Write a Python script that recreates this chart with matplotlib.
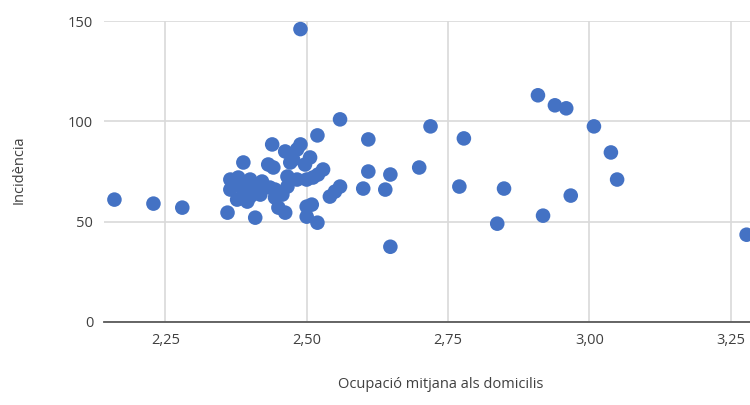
import numpy as np
import matplotlib.pyplot as plt
from matplotlib.ticker import FuncFormatter

# ocupacio mitjana (x) i incidencia (y), llegits del grafic
ocupacio = [2.160, 2.229, 2.280, 2.489, 2.559, 2.609, 2.519, 2.719, 2.778,
            2.909, 2.939, 2.959, 3.008, 3.038, 3.049, 2.967, 2.918, 2.837,
            2.849, 2.770, 2.699, 2.648, 2.639, 2.648, 3.278, 2.609, 2.600,
            2.439, 2.489, 2.462, 2.388, 2.432, 2.441, 2.506, 2.471, 2.529,
            2.379, 2.400, 2.421, 2.466, 2.483, 2.500, 2.511, 2.365, 2.388,
            2.405, 2.444, 2.466, 2.559, 2.377, 2.395, 2.444, 2.541, 2.550,
            2.450, 2.462, 2.500, 2.509, 2.500, 2.519, 2.360, 2.409,
            2.383, 2.400, 2.418, 2.435, 2.457, 2.476, 2.483, 2.497, 2.520, 2.365]
incidencia = [61, 59, 57, 146, 101, 91, 93, 97.5, 91.5,
              113, 108, 106.5, 97.5, 84.5, 71, 63, 53, 49,
              66.5, 67.5, 77, 73.5, 66, 37.5, 43.5, 75, 66.5,
              88.5, 88.5, 85, 79.5, 78.5, 77, 82, 79.5, 76,
              72, 71, 70, 72.5, 71, 71, 72, 66, 66,
              67, 66, 67.5, 67.5, 61, 60, 62, 62.5, 65,
              57, 54.5, 57.5, 58.5, 52.5, 49.5, 54.5, 52,
              68.5, 62.5, 63.5, 67, 63.5, 81, 86, 78.5, 73.5, 71]

xticks = [2.25, 2.50, 2.75, 3.00, 3.25]
yticks = [0, 50, 100, 150]

plt.rcParams['font.family'] = ['Open Sans', 'DejaVu Sans']

fig = plt.figure(figsize=(7.5, 4.05), dpi=100)
ax = fig.add_axes([0.139, 0.205, 0.861, 0.743])

ax.scatter(ocupacio, incidencia, s=110, color='#4472C4', edgecolors='none', zorder=3)

ax.set_xlim(2.142, 3.284)
ax.set_ylim(0, 150)
ax.set_xticks(xticks)
ax.set_yticks(yticks)
ax.xaxis.set_major_formatter(FuncFormatter(lambda v, p: ('%.2f' % v).replace('.', ',')))
ax.grid(True, color='#D9D9D9', linewidth=1.2, zorder=0)
ax.tick_params(length=0, labelsize=10.5, labelcolor='#404040', pad=8)

for s in ['top', 'right', 'left']:
    ax.spines[s].set_visible(False)
ax.spines['bottom'].set_color('#595959')
ax.spines['bottom'].set_linewidth(1.3)
ax.spines['bottom'].set_zorder(4)

fig.text(0.587, 0.032, 'Ocupació mitjana als domicilis', ha='center', va='bottom',
         fontsize=10.5, color='#404040')
fig.text(0.025, 0.58, 'Incidència', rotation=90, ha='center', va='center',
         fontsize=10.5, color='#404040')

plt.savefig('out.png')
